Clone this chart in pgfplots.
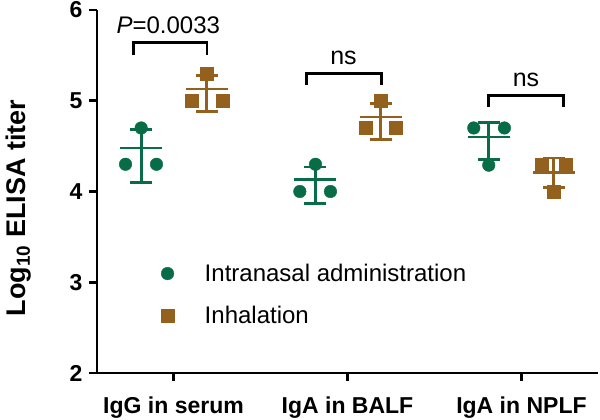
\documentclass[border=0pt]{standalone}
\usepackage{fontspec}
\setmainfont{Liberation Sans}
\usepackage{pgfplots}
\usepackage{pgfplotstable}
\pgfplotsset{compat=1.18}
\definecolor{cg}{RGB}{8,108,70}
\definecolor{cb}{RGB}{148,96,30}

\pgfplotstableread{
x y
-0.186 4.70
-0.276 4.30
-0.098 4.30
0.816 4.30
0.726 4.00
0.902 4.00
1.726 4.70
1.902 4.70
1.812 4.29
}\greenpts
\pgfplotstableread{
x y
0.190 5.30
0.103 5.00
0.280 5.00
1.190 5.00
1.103 4.70
1.276 4.70
2.119 4.29
2.253 4.29
2.186 4.00
}\brownpts
\pgfplotstableread{
x y ep em
-0.186 4.48 0.20 0.38
0.816 4.13 0.14 0.26
1.812 4.60 0.16 0.25
}\greenmean
\pgfplotstableread{
x y ep em
0.190 5.13 0.15 0.25
1.190 4.82 0.15 0.25
2.186 4.21 0.16 0.17
}\brownmean

\begin{document}
\begin{tikzpicture}
\begin{axis}[
  at={(0,0)}, anchor=south west,
  scale only axis, width=501pt, height=363pt,
  xmin=-0.44, xmax=2.44, ymin=2, ymax=6,
  axis x line=bottom, axis y line=left,
  axis line style={-, line width=2.7pt, black},
  clip=false,
  xtick={0,1,2},
  xticklabels={IgG in serum, IgA in BALF, IgA in NPLF},
  ytick={2,3,4,5,6},
  yticklabels={2,3,4,5,6},
  tick align=outside,
  major tick length=8pt,
  tick style={line width=2.7pt, black},
  tick label style={font=\bfseries\fontsize{23}{27}\selectfont},
  xticklabel style={yshift=-12pt},
  yticklabel style={xshift=-3pt},
  every axis y label/.style={at={(axis description cs:-0.157,0.455)}, rotate=90, anchor=center},
  ylabel={\bfseries\fontsize{27}{32}\selectfont Log\textsubscript{10} ELISA titer},
  legend style={at={(axis cs:-0.123,2.865)}, anchor=west, draw=none, fill=none,
    font=\fontsize{24}{29}\selectfont, row sep=23pt,
    nodes={inner sep=0pt}},
  legend cell align=left,
  legend image code/.code={\path (0pt,0pt) (49pt,0pt); \draw[#1] plot coordinates {(12pt,0pt)};},
]
\addplot[only marks, mark=*, mark size=6.3pt, color=cg, mark options={draw=none, fill=cg}] table[x=x,y=y]{\greenpts};
\addlegendentry{Intranasal administration}
\addplot[only marks, mark=square*, mark size=6.5pt, color=cb, mark options={draw=none, fill=cb}] table[x=x,y=y]{\brownpts};
\addlegendentry{Inhalation}

\addplot[forget plot, only marks, color=cg, mark=-, mark size=21pt, mark options={line width=2.8pt},
  error bars/.cd, y dir=both, y explicit, error mark=|,
  error bar style={line width=2.8pt, cg},
  error mark options={line width=2.8pt, mark size=11pt, cg}]
  table[x=x,y=y,y error plus=ep,y error minus=em]{\greenmean};
\addplot[forget plot, only marks, color=cb, mark=-, mark size=21pt, mark options={line width=2.8pt},
  error bars/.cd, y dir=both, y explicit, error mark=|,
  error bar style={line width=2.8pt, cb},
  error mark options={line width=2.8pt, mark size=11pt, cb}]
  table[x=x,y=y,y error plus=ep,y error minus=em]{\brownmean};

\draw[line width=2.7pt] (axis cs:-0.232,5.50) -- (axis cs:-0.232,5.64) -- (axis cs:0.193,5.64) -- (axis cs:0.193,5.50);
\draw[line width=2.7pt] (axis cs:0.764,5.17) -- (axis cs:0.764,5.30) -- (axis cs:1.195,5.30) -- (axis cs:1.195,5.17);
\draw[line width=2.7pt] (axis cs:1.810,4.93) -- (axis cs:1.810,5.06) -- (axis cs:2.241,5.06) -- (axis cs:2.241,4.93);
\node[font=\fontsize{24}{28}\selectfont, inner sep=0pt] at (axis cs:-0.03,5.83) {\textit{P}=0.0033};
\node[font=\fontsize{25}{29}\selectfont, inner sep=0pt] at (axis cs:0.977,5.47) {ns};
\node[font=\fontsize{25}{29}\selectfont, inner sep=0pt] at (axis cs:2.026,5.23) {ns};
\end{axis}
\pgfresetboundingbox
\useasboundingbox (-97pt,-47pt) rectangle (503pt,373pt);
\end{tikzpicture}
\end{document}
